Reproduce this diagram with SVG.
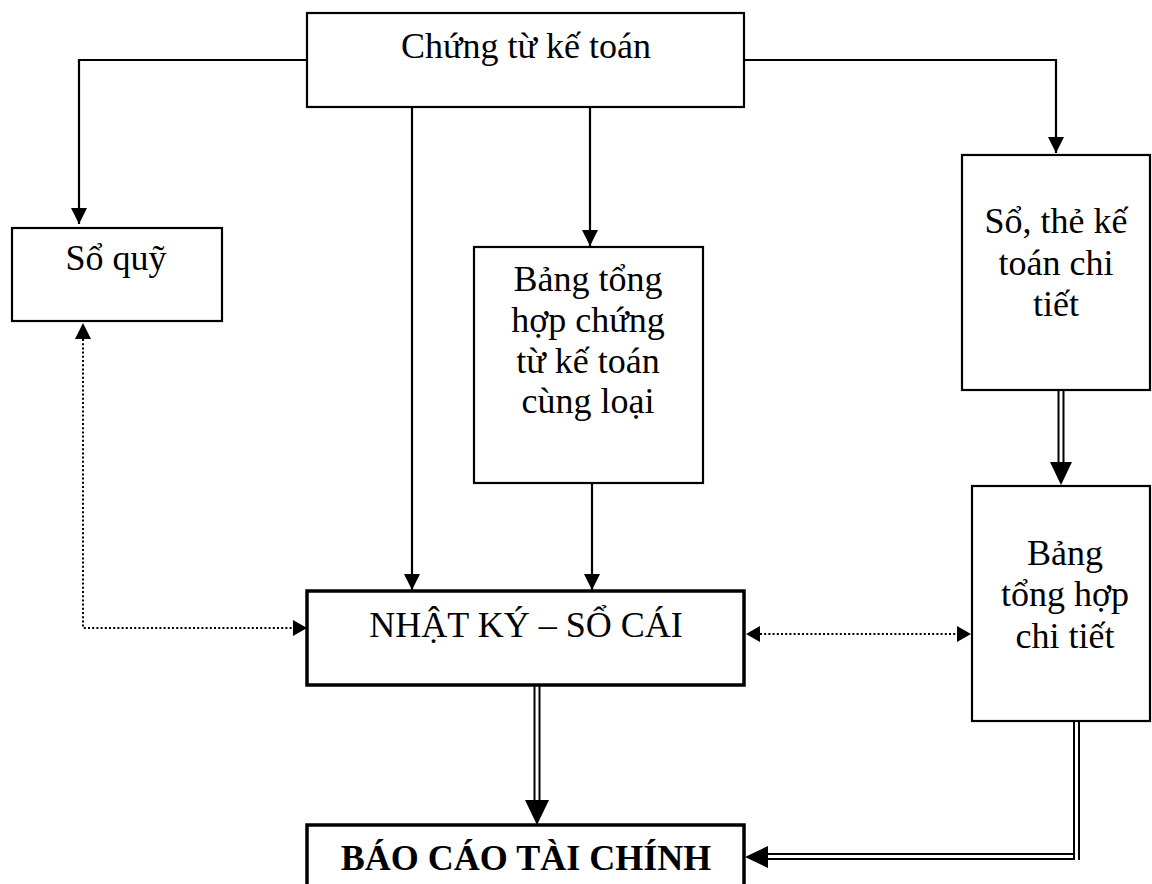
<svg xmlns="http://www.w3.org/2000/svg" width="1152" height="884" viewBox="0 0 1152 884">
  <style>
    .box { fill: #fff; stroke: #000; stroke-width: 2.2; }
    .boxb { fill: #fff; stroke: #000; stroke-width: 3.5; }
    .lbl { font-family: "Liberation Serif", "Times New Roman", serif; font-size: 36px; fill: #000; text-anchor: middle; }
    .bold { font-weight: bold; }
    .ln { fill: none; stroke: #000; stroke-width: 2.2; }
    .dot { fill: none; stroke: #000; stroke-width: 2; stroke-dasharray: 2 2.2; }
    .dblo { fill: none; stroke: #000; stroke-width: 7; }
    .dbli { fill: none; stroke: #fff; stroke-width: 3; }
    .head { fill: #000; }
  </style>
  <defs>
    <marker id="arr" markerUnits="userSpaceOnUse" markerWidth="16" markerHeight="16" refX="16" refY="8" orient="auto">
      <path d="M0,0 L16,8 L0,16 z" fill="#000"/>
    </marker>
  </defs>

  <!-- connectors -->
  <g id="connectors">
    <!-- solid flows from the source documents -->
    <path class="ln" d="M307,60 H79 V224" marker-end="url(#arr)"/>
    <path class="ln" d="M744,60 H1056 V153" marker-end="url(#arr)"/>
    <path class="ln" d="M412,107 V590" marker-end="url(#arr)"/>
    <path class="ln" d="M590,107 V246" marker-end="url(#arr)"/>
    <path class="ln" d="M592,483 V590" marker-end="url(#arr)"/>

    <!-- dotted cross-checks -->
    <path class="dot" d="M83,339 V628 H293"/>
    <polygon class="head" points="83,323 75,339 91,339"/>
    <polygon class="head" points="307,628 293,620 293,636"/>
    <path class="dot" d="M760,634 H957"/>
    <polygon class="head" points="746,634 760,626 760,642"/>
    <polygon class="head" points="971,634 957,626 957,642"/>

    <!-- double-line flows -->
    <path class="dblo" d="M537,686 V801"/>
    <path class="dbli" d="M537,686 V801"/>
    <polygon class="head" points="525,800 549,800 537,825"/>

    <path class="dblo" d="M1061,391 V463"/>
    <path class="dbli" d="M1061,391 V463"/>
    <polygon class="head" points="1050,462 1072,462 1061,485"/>

    <path class="dblo" d="M766,856.5 H1074"/>
    <path class="dbli" d="M766,856.5 H1073"/>
    <path class="dblo" d="M1076.5,721 V860"/>
    <path class="dbli" d="M1076.5,721 V860"/>
    <polygon class="head" points="745,857 768,846 768,868"/>
  </g>

  <g id="chung-tu">
    <rect class="box" x="307" y="13" width="437" height="94"/>
    <text class="lbl" x="526" y="58">Chứng từ kế toán</text>
  </g>

  <g id="so-quy">
    <rect class="box" x="12" y="228" width="210" height="93"/>
    <text class="lbl" x="116" y="270">Sổ quỹ</text>
  </g>

  <g id="bang-tong-hop-chung-tu">
    <rect class="box" x="474" y="247" width="229" height="236"/>
    <text class="lbl" x="588" y="291">Bảng tổng</text>
    <text class="lbl" x="588" y="332">hợp chứng</text>
    <text class="lbl" x="588" y="373">từ kế toán</text>
    <text class="lbl" x="588" y="413">cùng loại</text>
  </g>

  <g id="so-the-chi-tiet">
    <rect class="box" x="962" y="155" width="188" height="235"/>
    <text class="lbl" x="1056" y="233">Sổ, thẻ kế</text>
    <text class="lbl" x="1056" y="275">toán chi</text>
    <text class="lbl" x="1056" y="316">tiết</text>
  </g>

  <g id="nhat-ky-so-cai">
    <rect class="boxb" x="307" y="591" width="437" height="94"/>
    <text class="lbl" x="526" y="637">NHẬT KÝ – SỔ CÁI</text>
  </g>

  <g id="bang-tong-hop-chi-tiet">
    <rect class="box" x="972" y="486" width="178" height="235"/>
    <text class="lbl" x="1065" y="565">Bảng</text>
    <text class="lbl" x="1065" y="606">tổng hợp</text>
    <text class="lbl" x="1065" y="648">chi tiết</text>
  </g>

  <g id="bao-cao-tai-chinh">
    <rect class="boxb" x="307" y="825" width="437" height="80"/>
    <text class="lbl bold" x="526" y="870">BÁO CÁO TÀI CHÍNH</text>
  </g>
</svg>
